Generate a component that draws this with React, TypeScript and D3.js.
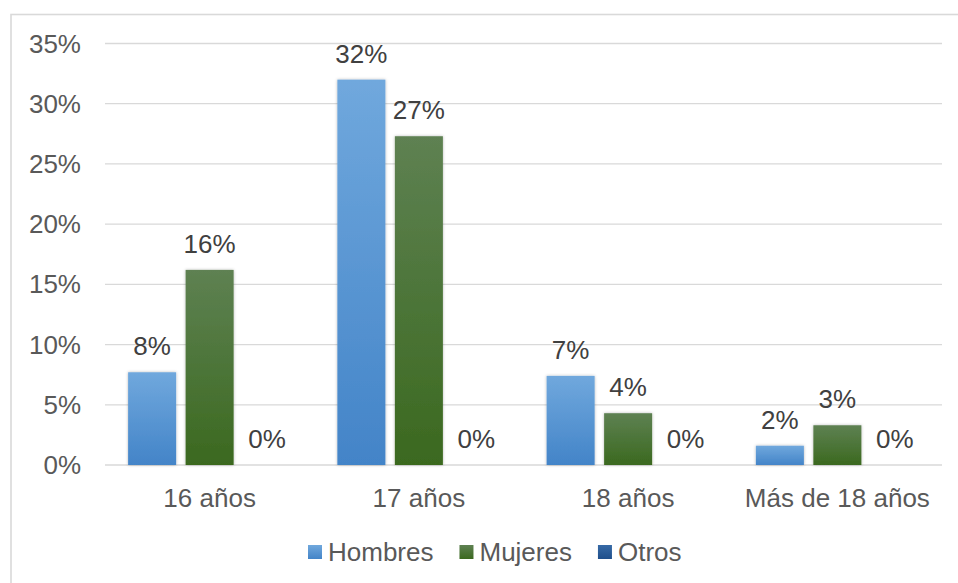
import React from "react";
import * as d3 from "d3";

const categories = ["16 años", "17 años", "18 años", "Más de 18 años"];
const seriesNames = ["Hombres", "Mujeres", "Otros"];
const hombres = [0.077, 0.32, 0.074, 0.016];
const mujeres = [0.162, 0.273, 0.043, 0.033];
const otros = [0, 0, 0, 0];
const yTicks = [0, 0.05, 0.1, 0.15, 0.2, 0.25, 0.3, 0.35];

const seriesValues = [hombres, mujeres, otros];
const gradients = [
  ["#70a8dd", "#4384c8"],
  ["#5e8152", "#3b691f"],
  ["#376aa6", "#1f4f8b"],
];

const W = 958;
const H = 583;
const FONT = "'Liberation Sans', Arial, sans-serif";

function measure(text: string): number {
  if (typeof document === "undefined") return text.length * 14;
  const c = document.createElement("canvas");
  const ctx = c.getContext("2d");
  if (!ctx) return text.length * 14;
  ctx.font = `26px ${FONT}`;
  return ctx.measureText(text).width;
}

export default function App() {
  const plotLeft = 105;
  const plotRight = 942;
  const yBottom = 465;
  const yTop = 43.5;

  const x0 = d3
    .scaleBand<string>()
    .domain(categories)
    .range([plotLeft, plotRight])
    .paddingInner(0.221)
    .paddingOuter(0.1105);
  const x1 = d3
    .scaleBand<string>()
    .domain(seriesNames)
    .range([0, x0.bandwidth()])
    .paddingInner(0.165);
  const y = d3.scaleLinear().domain([0, 0.35]).range([yBottom, yTop]);
  const fmt = d3.format(".0%");

  // legend layout
  const legendStart = 308;
  const sq = 14;
  let cursor = legendStart;
  const legendItems = seriesNames.map((name, i) => {
    const item = { name, i, x: cursor };
    cursor += sq + 6 + measure(name) + 26;
    return item;
  });

  return (
    <div style={{ position: "absolute", left: 0, top: 0 }}>
      <svg width={W} height={H} style={{ display: "block", fontFamily: FONT }}>
        <defs>
          {gradients.map((g, i) => (
            <linearGradient key={i} id={`grad${i}`} x1="0" y1="0" x2="0" y2="1">
              <stop offset="0%" stopColor={g[0]} />
              <stop offset="100%" stopColor={g[1]} />
            </linearGradient>
          ))}
          {gradients.map((g, i) => (
            <linearGradient key={"l" + i} id={`lgrad${i}`} x1="0" y1="0" x2="0" y2="1">
              <stop offset="0%" stopColor={g[0]} />
              <stop offset="100%" stopColor={g[1]} />
            </linearGradient>
          ))}
          <filter id="shadow" x="-20%" y="-20%" width="140%" height="140%">
            <feDropShadow dx="0" dy="0" stdDeviation="1.6" floodColor="#000" floodOpacity="0.28" />
          </filter>
        </defs>
        <rect x={0} y={0} width={W} height={H} fill="#fff" />
        <rect
          x={11}
          y={14.5}
          width={W + 20}
          height={H + 20}
          fill="none"
          stroke="#d9d9d9"
          strokeWidth={1.6}
        />
        {/* gridlines */}
        {yTicks.map((t) => (
          <line
            key={t}
            x1={plotLeft}
            x2={plotRight}
            y1={y(t)}
            y2={y(t)}
            stroke="#d9d9d9"
            strokeWidth={1.3}
          />
        ))}
        {/* y tick labels */}
        {yTicks.map((t) => (
          <text
            key={"l" + t}
            x={81}
            y={y(t) + 9}
            textAnchor="end"
            fontSize={26}
            fill="#595959"
          >
            {fmt(t)}
          </text>
        ))}
        {/* bars */}
        {categories.map((c, ci) => (
          <g key={c}>
            {seriesNames.map((s, si) => {
              const v = seriesValues[si][ci];
              const bx = (x0(c) as number) + (x1(s) as number);
              const by = y(v);
              const bh = yBottom - by;
              return (
                <g key={s}>
                  {bh > 0 && (
                    <rect
                      x={bx}
                      y={by}
                      width={x1.bandwidth()}
                      height={bh}
                      fill={`url(#grad${si})`}
                      filter="url(#shadow)"
                    />
                  )}
                  <text
                    x={bx + x1.bandwidth() / 2}
                    y={by - 17}
                    textAnchor="middle"
                    fontSize={26}
                    fill="#404040"
                  >
                    {fmt(v)}
                  </text>
                </g>
              );
            })}
          </g>
        ))}
        {/* category labels */}
        {categories.map((c) => (
          <text
            key={"c" + c}
            x={(x0(c) as number) + x0.bandwidth() / 2}
            y={507}
            textAnchor="middle"
            fontSize={26}
            fill="#595959"
          >
            {c}
          </text>
        ))}
        {/* legend */}
        {legendItems.map((it) => (
          <g key={it.name}>
            <rect x={it.x} y={545} width={sq} height={sq} fill={`url(#lgrad${it.i})`} />
            <text x={it.x + sq + 6} y={561} fontSize={26} fill="#595959">
              {it.name}
            </text>
          </g>
        ))}
      </svg>
    </div>
  );
}
